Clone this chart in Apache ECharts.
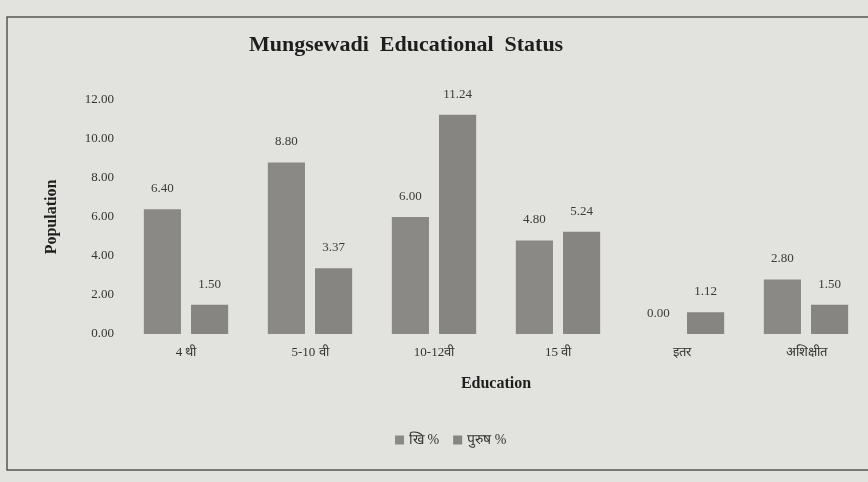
<!DOCTYPE html>
<html>
<head>
<meta charset="utf-8">
<script src="https://cdn.jsdelivr.net/npm/echarts@6/dist/echarts.min.js"></script>
<style>
  html, body { margin: 0; padding: 0; background: #e2e2de; }
  #chart { width: 868px; height: 482px; }
</style>
</head>
<body>
<div id="chart"></div>
<script>
var categories = ['4 थी', '5-10 वी', '10-12वी', '15 वी', 'इतर', 'अशिक्षीत'];
var femaleVals = [6.40, 8.80, 6.00, 4.80, 0.00, 2.80];
var maleVals = [1.50, 3.37, 11.24, 5.24, 1.12, 1.50];
var seriesNames = ['खि %', 'पुरुष %'];

var serif = '"Liberation Serif", "DejaVu Serif", serif';

var myChart = echarts.init(document.getElementById('chart'));
var labelStyle = {
	show: true,
	position: 'top',
	distance: 14,
	fontFamily: serif,
	fontSize: 13,
	color: '#3a3a3a',
	formatter: function (p) { return p.value.toFixed(2); }
};

option = {
	backgroundColor: '#e2e2de',
	title: {
		text: 'Mungsewadi  Educational  Status',
		left: 244,
		top: 29,
		textStyle: {
			fontFamily: serif,
			fontSize: 22,
			fontWeight: 'bold',
			color: '#1e1e1e'
		}
	},
	legend: {
		bottom: 30,
		left: 390,
		itemWidth: 9,
		itemHeight: 9,
		itemGap: 14,
		icon: 'rect',
		textStyle: { fontFamily: serif, fontSize: 14, color: '#333' },
		data: seriesNames
	},
	grid: {
		left: 124,
		right: 0,
		top: 100,
		bottom: 148
	},
	xAxis: {
		type: 'category',
		data: categories,
		name: 'Education',
		nameLocation: 'middle',
		nameGap: 42,
		nameTextStyle: { fontFamily: serif, fontSize: 16, fontWeight: 'bold', color: '#1e1e1e' },
		axisLine: { show: false },
		axisTick: { show: false },
		axisLabel: { fontFamily: serif, fontSize: 13, color: '#333', margin: 12 }
	},
	yAxis: {
		type: 'value',
		min: 0,
		max: 12,
		interval: 2,
		name: 'Population',
		nameLocation: 'middle',
		nameGap: 64,
		nameTextStyle: { fontFamily: serif, fontSize: 16, fontWeight: 'bold', color: '#1e1e1e' },
		splitLine: { show: false },
		axisLine: { show: false },
		axisTick: { show: false },
		axisLabel: {
			fontFamily: serif,
			fontSize: 13,
			color: '#333',
			margin: 10,
			formatter: function (v) { return v.toFixed(2); }
		}
	},
	series: [{
		name: seriesNames[0],
		type: 'bar',
		data: femaleVals,
		barGap: '27%',
		barCategoryGap: '32%',
		itemStyle: { color: '#8b8985' },
		label: labelStyle
	}, {
		name: seriesNames[1],
		type: 'bar',
		data: maleVals,
		itemStyle: { color: '#878581' },
		label: labelStyle
	}],
	graphic: [{
		type: 'rect',
		shape: { x: 7, y: 17, width: 900, height: 453 },
		style: { fill: 'none', stroke: '#555', lineWidth: 1.5 }
	}]
};
myChart.setOption(option);
</script>
</body>
</html>
